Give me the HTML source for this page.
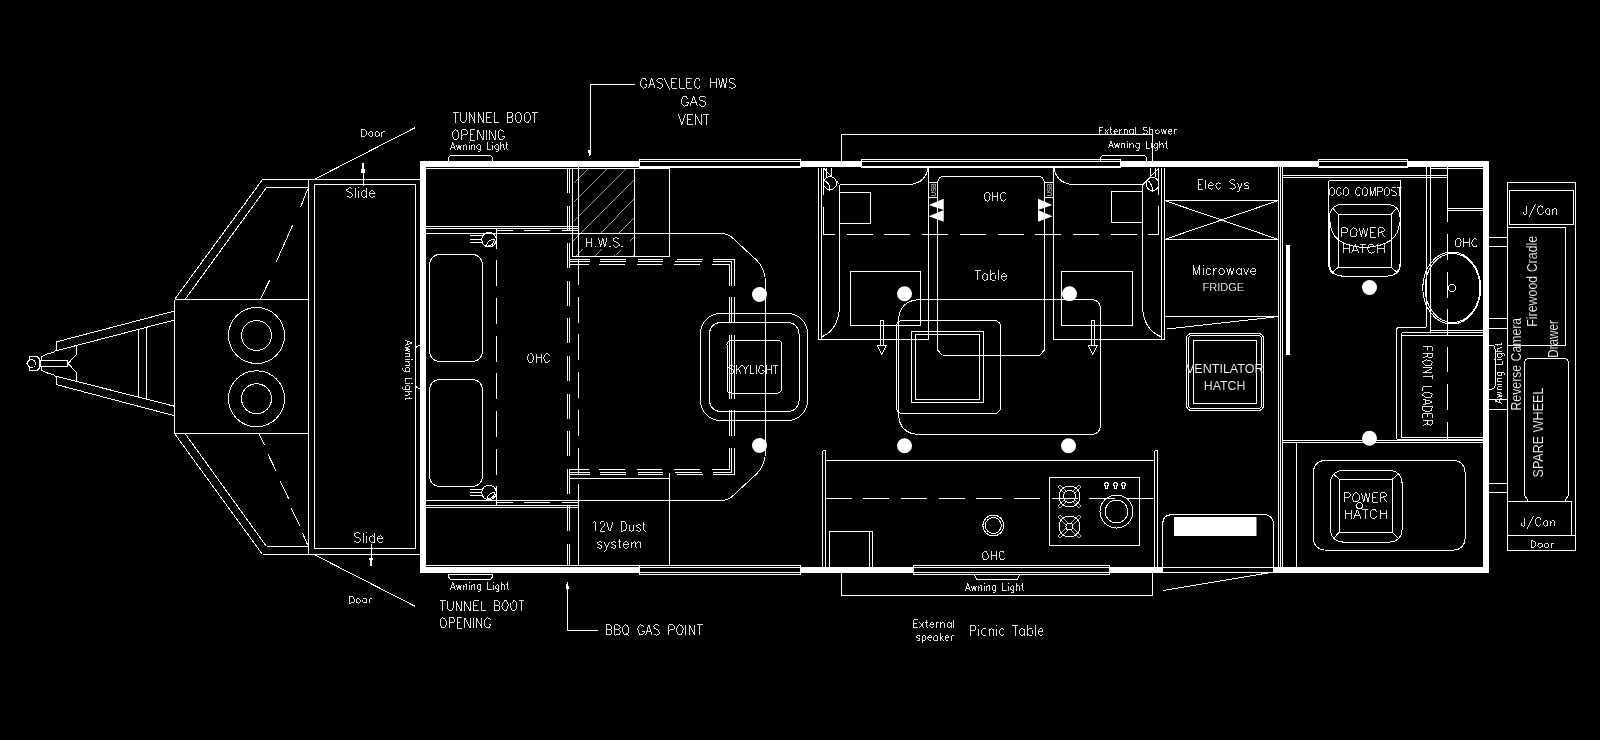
<!DOCTYPE html>
<html><head><meta charset="utf-8"><title>Caravan plan</title>
<style>
html,body{margin:0;padding:0;background:#000}
body{width:1600px;height:740px;overflow:hidden}
svg{display:block;filter:grayscale(1)}
text{font-family:"Liberation Sans",sans-serif;fill:#fff;stroke:#000;stroke-width:0.012em;paint-order:fill stroke}
.a text{font-family:"Liberation Sans",sans-serif}
</style></head><body>
<svg width="1600" height="740" viewBox="0 0 1600 740">
<rect width="1600" height="740" fill="#000"/>

<!-- ===== SECTION: DRAWBAR ===== -->
<g fill="none" stroke="#fff" stroke-width="1" shape-rendering="crispEdges">
<path d="M262.5,179.5H420M262.5,554.5H420M266.5,187.5H308.5M266.5,546.5H308.5M308.5,179.5V554.5"/>
<rect x="314.5" y="184.5" width="101" height="364"/>
<path d="M174.5,299.5H308.5M174.5,433.5H308.5M174.5,299.5V433.5"/>
<path d="M138.5,329.5V397M146.5,327.5V399"/>
<rect x="40.5" y="360.5" width="27" height="6"/>
</g>
<g fill="none" stroke="#fff" stroke-width="1" shape-rendering="crispEdges">
<path d="M262.5,179.5L174.5,299.5M266.5,187.5L185,299.5M174.5,433.5L262.5,554.5M185,433.5L266.5,546.5"/>
<path d="M307.7,188.9L300.5,207.4M292.6,225.2L276.3,261.7M269.7,280L260.4,299.1"/>
<path d="M258.9,433.5L264.6,444.9M268,454.3L276.3,471.3M280.1,480.8L288.8,499.1M291,507.8L300.1,526.2M302.4,532.8L307.7,545"/>
<path d="M315,179L415.5,127.5M315,555L415.5,606.5"/>
<!-- beams -->
<path d="M174.5,311L56,342V350L53.5,352.5Q45,354 41.5,357V360.5"/>
<path d="M174.5,320L56,350.8"/>
<path d="M76.5,345.5V354.5L68,363.5L76.5,372.5V381.5"/>
<path d="M174.5,415.75L56,384.5V377L53.5,374.5Q45,373 41.5,370V366.5"/>
<path d="M174.5,406.25L56,376.2"/>
<!-- hitch -->
<path d="M39.5,359L37,356.5H29.5V360.5L26.5,363.5L29.5,366.5V370.5H37L39.5,368Z"/>
<circle cx="31.5" cy="363.5" r="4"/>
<!-- gas bottles -->
<circle cx="256.5" cy="335.5" r="28"/><circle cx="256.5" cy="335.5" r="15"/>
<circle cx="256.5" cy="398.75" r="28"/><circle cx="256.5" cy="398.75" r="15"/>
</g>

<!-- ===== SECTION: SHELL ===== -->
<g fill="#fff" stroke="none" shape-rendering="crispEdges">
<rect x="420" y="161" width="6" height="412"/>
<rect x="1483" y="161" width="6" height="412"/>
<rect x="420" y="161" width="219" height="6"/>
<rect x="801" y="161" width="60" height="6"/>
<rect x="1121" y="161" width="197" height="6"/>
<rect x="1408" y="161" width="81" height="6"/>
<rect x="420" y="567" width="219" height="6"/>
<rect x="801" y="567" width="112" height="6"/>
<rect x="1110" y="567" width="53" height="6"/>
<rect x="1273" y="567" width="216" height="6"/>
</g>
<g fill="none" stroke="#fff" stroke-width="1" shape-rendering="crispEdges">
<path d="M426,168.5H669.500M426,565.5H669.500M1430.500,168.500H1483"/>
<!-- top windows -->
<path d="M639.5,159V168M639,159.5H801M639,161.5H801M800.5,159V168"/>
<path d="M861.5,159V168M861,159.5H1121M861,161.5H1121M1120.5,159V168"/>
<path d="M1318.5,159V168M1318,159.5H1408M1318,161.5H1408M1407.5,159V168"/>
<!-- bottom windows -->
<path d="M639.5,565V575M639,565.500H801M639,567.5H801M639,572.5H801M639,574.5H801M800.5,565V575"/>
<path d="M913.5,565V575M913,565.5H1110M913,567.5H1110M913,572.5H1110M913,574.5H1110M1109.5,565V575"/>
<!-- door -->
<path d="M1163,567.5H1273M1163,572.5H1273"/>
</g>
<g fill="#fff" stroke="none" shape-rendering="crispEdges">
<rect x="639" y="166" width="162" height="2"/>
<rect x="861" y="166" width="260" height="2"/>
<rect x="1318" y="166" width="90" height="2"/>
</g>
<!-- ===== SECTION: BED ===== -->
<g fill="none" stroke="#fff" stroke-width="1" shape-rendering="crispEdges">
<!-- head/foot double lines -->
<path d="M426,226.5H578M426,228.5H578M426,505.5H578M426,507.5H578"/>
<path d="M497,230.5H513M524,230.5H550M562,230.5H578"/>
<path d="M497,502.5H513M524,502.5H550M562,502.5H578"/>
<!-- vertical dashed x=496 -->
<path d="M496.5,228V505" stroke-dasharray="26 11.7" stroke-dashoffset="5.5"/>
<!-- double dashed verticals -->
<path d="M567.5,168V566M569.5,168V566" stroke-dasharray="25 12.6"/>
<path d="M572.5,168V257"/>
<path d="M578.5,162V257M578.5,484V566"/>
<path d="M578.5,259V484" stroke-dasharray="26 11.7"/>
<!-- HWS boxes -->
<path d="M572.5,256.5H669.5M634.5,168V257M669.5,168V257"/>
<!-- dust box -->
<path d="M569,478.5H669.5M669.5,473V566"/>
<!-- triple dashed rect: horizontals -->
<path d="M569,259.5H589.5M600,259.5H626M637.5,259.5H663M676.5,259.5H702.5M713,259.5H735"/>
<path d="M569,261.5H589.5M600,261.5H626M637.5,261.5H663M675,261.5H702M713,261.5H732"/>
<path d="M569,264.5H589M599,264.5H625M636.5,264.5H662M674,264.5H700M712,264.5H730"/>
<path d="M569,474.5H589.5M600,474.5H626M637.5,474.5H663M676.5,474.5H702.5M713,474.5H735"/>
<path d="M569,472.5H589.5M600,472.5H626M637.5,472.5H663M675,472.5H702M713,472.5H732"/>
<path d="M569,469.5H589M599,469.5H625M636.5,469.5H662M674,469.5H700M712,469.5H730"/>
<!-- triple dashed rect: verticals -->
<path d="M734.5,259V286M734.5,297V323M734.5,335V399M734.5,410V436M734.5,447.5V475"/>
<path d="M731.5,261V286M731.5,297V323M731.5,335V399M731.5,410V436M731.5,447.5V473"/>
<path d="M729.5,264V286M729.5,297V323M729.5,335V399M729.5,410V436M729.5,447.5V470"/>
<!-- bed outline straight parts -->
<path d="M426,233.5H720M426,500.5H720M765.5,284V450"/>
</g>
<g fill="none" stroke="#fff" stroke-width="1" shape-rendering="crispEdges">
<path d="M720,233.5Q727,233.5 731,236.5L757,260.5Q765.5,269 765.5,284"/>
<path d="M720,500.5Q727,500.5 731,497.5L757,473.5Q765.5,465 765.5,450"/>
<!-- pillows -->
<rect x="429.5" y="254.5" width="53" height="107" rx="10" ry="10"/>
<rect x="429.5" y="379.5" width="53" height="107" rx="10" ry="10"/>
<!-- light fixtures -->
<circle cx="489" cy="239.7" r="7.3"/>
<path d="M470,235.5H483M470,239.5H481.500M470,242.500H482"/>
<path d="M486.300,246.300Q487,240 494.500,239.200Q494,246 486.300,246.300Z"/>
<circle cx="489" cy="492.5" r="7.3"/>
<path d="M470,489.500H482M470,492.500H481.500M470,495.500H482"/>
<path d="M487.300,498.800Q488,493 494.800,492.400Q494,498.500 487.300,498.800Z"/>
<!-- hatch -->
<path stroke-width="0.6" d="M572.5,183.1L587,168.5M572.5,202L606,168.5M572.5,221L625,168.5M572.5,240.5L634.5,178.5
M575,256.5L583,249.5M599.5,233.5L634.5,197.5M594,256.5L601.5,249.5M618,233.5L634.5,216.5M613,256.5L620,249.5M629.5,240.5L634.5,235.5M632,256.5L634.5,254"/>
<!-- skylight -->
<rect x="700.5" y="313.5" width="107" height="107" rx="20" ry="20"/>
<rect x="709.5" y="322.5" width="89.500" height="89" rx="11" ry="11"/>
<rect x="727" y="340.500" width="54.700" height="52.500" rx="4" ry="4"/>
</g>
<g fill="#fff" stroke="none">
<circle cx="759.5" cy="294.5" r="7.5"/><circle cx="759.5" cy="445.5" r="7.5"/>
</g>

<!-- ===== SECTION: DINETTE ===== -->
<g fill="none" stroke="#fff" stroke-width="1" shape-rendering="crispEdges">
<!-- wall between bed and dinette -->
<path d="M818.500,168V339.500M821.500,168V339.500M818.500,339.500H928.500M823.500,167.500V194.500M823.500,206.500V234.500"/>
<!-- external shower box -->
<path d="M841.500,161V134.500H1152.500V161"/>
<!-- left seat -->
<path d="M839.500,184.500V308M839.500,184.500H911"/>
<rect x="839.500" y="192.500" width="31" height="31"/>
<rect x="850.500" y="271.500" width="70" height="54"/>
<path d="M928.500,168V339.500M937.500,197V350"/>
<!-- right seat -->
<path d="M1142.500,184.500V308M1071,184.500H1142.500"/>
<rect x="1111.500" y="191.500" width="31" height="31"/>
<rect x="1061.500" y="271.500" width="70.500" height="54"/>
<path d="M1053.500,168V339.500M1044.500,197V350M1053.500,339.500H1164.500"/>
<path d="M1158.500,167.500V194.500M1158.500,206V234.500M1161.500,168V339.500M1164.500,168V339.500"/>
<!-- USB boxes -->
<rect x="928.500" y="182.500" width="9" height="15"/>
<rect x="1044.500" y="182.500" width="9" height="15"/>
<!-- table top line -->
<path d="M944,176.500H1038M942.500,355.500H1039.500"/>
<!-- dashed OHC line -->
<path d="M823.500,234.500H1159" stroke-dasharray="26 11.7" stroke-dashoffset="14.5"/>
<!-- centre squares -->
<rect x="911.500" y="331.500" width="72" height="71"/>
<rect x="915.500" y="334.500" width="64" height="65"/>
<!-- arrows shafts -->
<path d="M880.500,320V345.500M883.500,320V345.500M880.500,320.500H883.500M877,345.500H886.500"/>
<path d="M1091.500,320V345.500M1094.500,320V345.500M1091.500,320.500H1094.500M1088,345.500H1097.500"/>
</g>
<g fill="none" stroke="#fff" stroke-width="1" shape-rendering="crispEdges">
<path d="M911,184.500Q926,182 928,168"/>
<path d="M1071,184.500Q1056,182 1054,168"/>
<path d="M839.500,308Q838,330 821.500,337"/>
<path d="M1142.500,308Q1144,330 1161.500,337"/>
<path d="M937.500,197.500V182.500Q938.500,176.500 944,176.500M1038,176.500Q1043.500,176.500 1044.500,182.500"/>
<path d="M937.500,350L942.500,355.500M1039.500,355.500L1044.500,350"/>
<path d="M877,345.500L881.750,354L886.500,345.500M1088,345.500L1092.750,354L1097.500,345.500"/>
<!-- big rounded rect -->
<path d="M922,299.500H1090.500Q1100.500,299.500 1100.500,309.500V424.500Q1100.500,434.500 1090.500,434.500H920.500Q898.500,434.500 898.500,412.500V322Q898.500,299.500 922,299.500Z"/>
<rect x="896.500" y="320.500" width="104" height="93" rx="6" ry="6"/>
<!-- lights at seat ends -->
<circle cx="830" cy="183.200" r="6.500"/>
<path d="M826.500,167.500V176.500M831.500,167.500V176.500M823.500,168L831.500,176.500M836.500,181L839.500,184.500M825,181Q831,184 829.500,191.500"/>
<circle cx="1152.500" cy="184" r="6.500"/>
<path d="M1150.500,167.500V176.500M1155.500,167.500V176.500M1157.500,169.500L1143,184.500M1147,180Q1152,183 1153,192"/>
</g>
<g fill="#fff" stroke="none">
<circle cx="904.500" cy="293.750" r="7.500"/><circle cx="1069.500" cy="293.750" r="7.500"/>
<circle cx="904.500" cy="445.750" r="7.500"/><circle cx="1068.500" cy="445.750" r="7.500"/>
<path d="M928.750,205L943.750,198.750V210ZM928.750,216.250L943.750,210V221.750Z"/>
<path d="M1052.500,205L1038,198.750V210ZM1052.500,216.250L1038,210V221.750Z"/>
</g>

<!-- ===== SECTION: KITCHEN ===== -->
<g fill="none" stroke="#fff" stroke-width="1" shape-rendering="crispEdges">
<path d="M822.500,450.500V567M825.500,450.500V567M822.500,450.500H826M1154.500,450.500V567M1157.500,450.500V567M1154.500,450.500H1158"/>
<path d="M825.500,460.500H1154.500"/>
<path d="M825.500,498.500H1154.500" stroke-dasharray="26 11.700" stroke-dashoffset="0"/>
<path d="M829.500,567V531.500H872.500V567M869.500,531.500V567"/>
<rect x="1049.500" y="477.500" width="90" height="68"/>
<!-- picnic table box -->
<path d="M841.500,573V595.500H1152.500V573"/>
</g>
<g fill="none" stroke="#fff" stroke-width="1" shape-rendering="crispEdges">
<circle cx="993.250" cy="525.500" r="10.400"/><circle cx="993.250" cy="525.500" r="8"/>
<!-- burners -->
<circle cx="1069.500" cy="496.500" r="10.400"/><circle cx="1069.500" cy="496.500" r="6.200"/>
<path stroke-width="0.7" d="M1072.8,502.0L1079.0,508.2L1081.2,506.0L1075.0,499.8M1064.0,499.8L1057.8,506.0L1060.0,508.2L1066.2,502.0M1066.2,491.0L1060.0,484.8L1057.8,487.0L1064.0,493.2M1075.0,493.2L1081.2,487.0L1079.0,484.8L1072.8,491.0"/>
<circle cx="1069.500" cy="526.500" r="10.400"/><circle cx="1069.500" cy="526.500" r="3.500"/>
<path stroke-width="0.7" d="M1070.8,530.1L1079.0,538.2L1081.2,536.0L1073.1,527.8M1065.9,527.8L1057.8,536.0L1060.0,538.2L1068.2,530.1M1068.2,522.9L1060.0,514.8L1057.8,517.0L1065.9,525.2M1073.1,525.2L1081.2,517.0L1079.0,514.8L1070.8,522.9"/>
<circle cx="1116.500" cy="511.500" r="16.500"/><circle cx="1116.500" cy="511.500" r="11.300"/>
<!-- knobs -->
<path d="M1104.500,484Q1106.500,481 1108.500,484V485.500H1107.500V488.500H1105.500V485.500H1104.500ZM1113.500,484Q1115.500,481 1117.500,484V485.500H1116.500V488.500H1114.500V485.500H1113.500ZM1121.500,484Q1123.500,481 1125.500,484V485.500H1124.500V488.500H1122.500V485.500H1121.500Z"/>
<!-- awning light bumps -->
<path d="M974.500,575L977,579.500H1017L1019.500,575"/>
</g>
<!-- ===== SECTION: FRIDGE/ELEC ===== -->
<g fill="none" stroke="#fff" stroke-width="1" shape-rendering="crispEdges">
<path d="M1164.500,200.500H1278.500M1164.500,239.500H1278.500M1164.500,316.500H1279"/>
<path d="M1278.500,167V567M1280.500,167V567M1282.500,167V567"/>
<rect x="1286" y="245" width="3.500" height="110" fill="#fff" stroke="none"/>
<rect x="1193.500" y="340.500" width="63" height="63"/>
</g>
<g fill="none" stroke="#fff" stroke-width="1" shape-rendering="crispEdges">
<path d="M1164.500,200.500L1278.500,239.500M1164.500,239.500L1278.500,200.500"/>
<path d="M1167.500,329L1279,316.500"/>
<rect x="1186.500" y="333.500" width="77" height="77" rx="5" ry="5"/>
<rect x="1188.500" y="335.500" width="73" height="73" rx="3.500" ry="3.500"/>
<!-- door step -->
<path d="M1162.500,567V525Q1162.500,514.500 1173,514.500H1263Q1273.500,514.500 1273.500,525V567"/>
<path d="M1270.500,572.500L1163.500,590.500"/>
</g>
<rect x="1174" y="517" width="82.500" height="19" fill="#fff"/>
<!-- ===== SECTION: BATH ===== -->
<g fill="none" stroke="#fff" stroke-width="1" shape-rendering="crispEdges">
<path d="M1282,175.500H1447.500M1282,177.500H1447.500"/>
<path d="M1426.500,167V325M1430.500,167V332.500M1447.500,167V222"/>
<path d="M1447.500,234V260M1447.500,271.500V297.500M1447.500,309V335.500M1447.500,346.500V371.500M1447.500,384V409.500M1447.500,421.500V439.500"/>
<path d="M1447.500,208.500H1483M1447.500,210.500H1483"/>
<path d="M1328.500,180.500H1400.500M1328.500,180.500V262M1400.500,180.500V262"/>
<rect x="1338.500" y="214.500" width="52.500" height="52.500"/>
<rect x="1339.500" y="479.500" width="52.500" height="52.500"/>
<path d="M1399,327.500H1424.500M1430.500,330.500H1483M1401.500,332.500H1483M1401.500,335.500H1483M1396.500,330V439M1401.500,332.500V437.500"/>
<path d="M1401.500,437.500H1483M1396.500,439.500H1483M1282,440.500H1483M1282,442.500H1483M1296.500,442.500V567"/>
</g>
<g fill="none" stroke="#fff" stroke-width="1" shape-rendering="crispEdges">
<path d="M1328.500,262Q1328.500,270 1333,273.500M1400.500,262Q1400.500,270 1396.500,273.500"/>
<rect x="1329.500" y="204.500" width="70.500" height="71.500" rx="12" ry="12"/>
<path d="M1332.500,208L1338.500,214.500M1397,208L1391,214.500M1332.500,272.500L1338.500,267M1397,272.500L1391,267"/>
<path d="M1330,222Q1331,246 1364.500,247.500Q1399,246 1399.500,222"/>
<rect x="1330.500" y="470.500" width="71.500" height="71.500" rx="12" ry="12"/>
<path d="M1333.500,474L1339.500,479.500M1398.500,474L1392,479.500M1333.500,538.500L1339.500,532M1398.500,538.500L1392,532"/>
<rect x="1313.500" y="460.500" width="151.500" height="89.500" rx="11" ry="11"/>
<circle cx="1359.500" cy="505.750" r="3"/>
<ellipse cx="1451.750" cy="288" rx="29" ry="36"/>
<ellipse cx="1452.500" cy="288" rx="27.500" ry="34.500"/>
<circle cx="1452" cy="288" r="3.500"/>
<path d="M1426.500,325Q1426.500,327.500 1424.500,327.500M1399,327.500Q1396.500,327.500 1396.500,330.500"/>
</g>
<g fill="#fff" stroke="none">
<circle cx="1369.500" cy="287.500" r="7.500"/><circle cx="1369.500" cy="438.250" r="7.500"/>
</g>
<!-- ===== SECTION: REAR ===== -->
<g fill="none" stroke="#fff" stroke-width="1" shape-rendering="crispEdges">
<path d="M1507.500,182.500H1575.500V550H1507.500Z"/>
<rect x="1509.500" y="190.500" width="64" height="34"/>
<path d="M1507.500,227.500H1565.500V345.500M1507.500,345.500H1565.500"/>
<path d="M1489,237.500H1507.500M1489,246.500H1507.500M1489,318.500H1507.500M1489,328.500H1507.500M1489,399.500H1507.500M1489,409.500H1507.500M1489,483.500H1507.500M1489,492.500H1507.500"/>
<path d="M1507.500,501.500H1571.500V535.500M1507.500,535.500H1575.500"/>
</g>
<g fill="none" stroke="#fff" stroke-width="1" shape-rendering="crispEdges">
<path d="M1524.500,495V363.500Q1524.500,358.500 1529.500,358.500H1563.500Q1568.500,358.500 1568.500,363.500V495L1564.500,501.500H1528.500Z"/>
<path d="M1489,345H1492Q1495,345.500 1495,348.500V385.500Q1495,388.500 1492,389H1489"/>
</g>

<!-- ===== SECTION: TEXT ===== -->
<g fill="none" stroke="#fff" stroke-width="0.85" shape-rendering="crispEdges">
<path d="M361.8,129.3L361.8,136.5M361.8,129.3L365.1,129.6L366.5,132.0L366.5,133.8L365.1,136.2L361.8,136.5M370.2,131.7L368.9,132.7L368.5,134.4L369.6,136.2L371.3,136.5L372.6,135.5L373.0,133.8L371.9,132.0L370.2,131.7M376.7,131.7L375.3,132.7L375.0,134.4L376.0,136.2L377.7,136.5L379.1,135.5L379.4,133.8L378.4,132.0L376.7,131.7M381.8,131.7L381.8,136.5M381.8,133.8L382.8,132.0L384.5,131.7"/>
<path d="M352.4,189.0L350.3,187.6L348.6,187.6L346.5,189.0L347.3,191.4L351.5,193.3L352.4,194.7L352.4,196.1L350.3,197.5L348.6,197.5L346.5,196.1M355.3,187.6L355.3,197.5M358.2,187.6L358.6,188.1L359.0,187.6L358.6,187.1L358.2,187.6M358.6,190.9L358.6,197.5M366.6,187.6L366.6,197.5M366.6,192.3L364.9,190.9L363.6,190.9L362.0,192.3L361.5,193.7L362.0,196.1L363.6,197.5L364.9,197.5L366.6,196.1M369.5,193.7L374.5,193.7L374.1,191.8L372.8,190.9L371.6,190.9L369.9,192.3L369.5,193.7L369.9,196.1L371.6,197.5L372.8,197.5L374.5,196.1"/>
<path d="M455.8,112.3L455.8,122.5M453.0,112.3L458.6,112.3M460.5,112.3L460.5,119.6L460.9,121.0L462.9,122.5L464.9,122.0L465.7,121.0L466.1,119.6L466.1,112.3M469.3,112.3L469.3,122.5M469.3,112.3L474.8,122.5M474.8,112.3L474.8,122.5M478.0,112.3L478.0,122.5M478.0,112.3L483.5,122.5M483.5,112.3L483.5,122.5M486.7,112.3L486.7,122.5M486.7,112.3L491.9,112.3M486.7,117.2L489.9,117.2M486.7,122.5L491.9,122.5M494.3,112.3L494.3,122.5M494.3,122.5L499.0,122.5M507.3,112.3L507.3,122.5M507.3,112.3L510.9,112.3L512.5,113.3L512.9,115.2L512.1,116.7L510.9,117.2M507.3,117.2L510.9,117.2L512.1,117.6L512.9,119.1L512.9,120.6L512.1,122.0L507.3,122.5M517.7,112.3L515.7,114.7L515.3,118.6L516.9,122.0L519.3,122.5L521.2,120.1L521.6,116.2L520.0,112.8L517.7,112.3M526.4,112.3L524.4,114.7L524.0,118.6L525.6,122.0L528.0,122.5L530.0,120.1L530.4,116.2L528.8,112.8L526.4,112.3M534.7,112.3L534.7,122.5M531.9,112.3L537.5,112.3"/>
<path d="M454.9,129.8L452.9,132.2L452.5,136.1L454.1,139.5L456.5,140.0L458.5,137.6L458.9,133.7L457.3,130.3L454.9,129.8M461.7,129.8L461.7,140.0M461.7,129.8L465.3,129.8L466.5,130.3L467.3,131.7L467.3,133.2L466.5,134.7L461.7,135.1M470.1,129.8L470.1,140.0M470.1,129.8L475.3,129.8M470.1,134.7L473.3,134.7M470.1,140.0L475.3,140.0M477.7,129.8L477.7,140.0M477.7,129.8L483.2,140.0M483.2,129.8L483.2,140.0M486.4,129.8L486.4,140.0M489.6,129.8L489.6,140.0M489.6,129.8L495.2,140.0M495.2,129.8L495.2,140.0M504.0,132.2L502.8,130.3L500.4,129.8L498.8,131.3L498.0,133.7L498.4,137.6L500.4,140.0L502.8,139.5L504.0,137.6L504.0,136.1M502.0,136.1L504.0,136.1"/>
<path d="M452.9,142.3L450.5,149.5M452.9,142.3L455.3,149.5M451.4,147.1L454.4,147.1M456.5,144.7L457.7,149.5M458.9,144.7L457.7,149.5M458.9,144.7L460.1,149.5M461.3,144.7L460.1,149.5M463.4,144.7L463.4,149.5M463.4,146.1L464.9,144.7L466.4,145.0L466.7,149.5M468.8,142.3L469.1,142.6L469.4,142.3L469.1,142.0L468.8,142.3M469.1,144.7L469.1,149.5M471.4,144.7L471.4,149.5M471.4,146.1L472.9,144.7L474.4,145.0L474.7,149.5M480.4,144.7L480.4,150.2L480.1,151.2L479.2,151.9L477.7,151.6M480.4,145.7L479.2,144.7L478.3,144.7L477.1,145.7L476.8,146.8L477.1,148.5L478.3,149.5L479.2,149.5L480.4,148.5M487.6,142.3L487.6,149.5M487.6,149.5L491.2,149.5M492.4,142.3L492.7,142.6L493.0,142.3L492.7,142.0L492.4,142.3M492.7,144.7L492.7,149.5M498.4,144.7L498.4,150.2L498.1,151.2L497.2,151.9L495.7,151.6M498.4,145.7L497.2,144.7L496.3,144.7L495.1,145.7L494.8,146.8L495.1,148.5L496.3,149.5L497.2,149.5L498.4,148.5M500.8,142.3L500.8,149.5M500.8,146.1L502.3,144.7L503.8,145.0L504.1,149.5M506.8,142.3L506.8,148.1L507.1,149.2L508.2,149.5M505.9,144.7L508.0,144.7"/>
<path d="M646.8,80.5L645.5,78.5L643.0,78.0L641.3,79.5L640.5,81.9L640.9,85.8L643.0,88.2L645.5,87.8L646.8,85.8L646.8,84.4M644.7,84.4L646.8,84.4M651.8,78.0L648.5,88.2M651.8,78.0L655.2,88.2M649.7,84.8L653.9,84.8M662.8,79.5L660.7,78.0L659.0,78.0L656.9,79.5L657.7,81.9L661.9,83.9L662.8,85.3L662.8,86.8L660.7,88.2L659.0,88.2L656.9,86.8M664.0,78.0L669.9,89.7M671.6,78.0L671.6,88.2M671.6,78.0L677.0,78.0M671.6,82.9L674.9,82.9M671.6,88.2L677.0,88.2M679.6,78.0L679.6,88.2M679.6,88.2L684.6,88.2M686.7,78.0L686.7,88.2M686.7,78.0L692.2,78.0M686.7,82.9L690.1,82.9M686.7,88.2L692.2,88.2M700.6,80.5L699.3,78.5L696.8,78.0L695.1,79.5L694.3,81.9L694.3,84.4L695.9,87.8L698.5,88.2L700.6,85.8M710.2,78.0L710.2,88.2M716.1,78.0L716.1,88.2M710.2,82.9L716.1,82.9M718.6,78.0L720.7,88.2M722.8,78.0L720.7,88.2M722.8,78.0L724.9,88.2M727.0,78.0L724.9,88.2M735.0,79.5L732.9,78.0L731.2,78.0L729.1,79.5L730.0,81.9L734.2,83.9L735.0,85.3L735.0,86.8L732.9,88.2L731.2,88.2L729.1,86.8"/>
<path d="M688.2,98.5L686.8,96.5L684.0,96.0L682.2,97.5L681.2,99.9L681.7,103.8L684.0,106.2L686.8,105.8L688.2,103.8L688.2,102.4M685.9,102.4L688.2,102.4M693.7,96.0L690.0,106.2M693.7,96.0L697.4,106.2M691.4,102.8L696.0,102.8M705.8,97.5L703.4,96.0L701.6,96.0L699.3,97.5L700.2,99.9L704.8,101.9L705.8,103.3L705.8,104.8L703.4,106.2L701.6,106.2L699.3,104.8"/>
<path d="M678.5,114.3L681.8,124.5M685.2,114.3L681.8,124.5M687.3,114.3L687.3,124.5M687.3,114.3L692.7,114.3M687.3,119.2L690.6,119.2M687.3,124.5L692.7,124.5M695.2,114.3L695.2,124.5M695.2,114.3L701.1,124.5M701.1,114.3L701.1,124.5M706.1,114.3L706.1,124.5M703.2,114.3L709.0,114.3"/>
<path d="M586.0,237.8L586.0,247.0M591.8,237.8L591.8,247.0M586.0,242.2L591.8,242.2M595.6,246.1L595.2,246.6L595.6,247.0L596.0,246.6L595.6,246.1M598.5,237.8L600.6,247.0M602.7,237.8L600.6,247.0M602.7,237.8L604.8,247.0M606.9,237.8L604.8,247.0M609.8,246.1L609.4,246.6L609.8,247.0L610.2,246.6L609.8,246.1M619.0,239.1L616.9,237.8L615.2,237.8L613.1,239.1L614.0,241.3L618.2,243.1L619.0,244.4L619.0,245.7L616.9,247.0L615.2,247.0L613.1,245.7M622.3,246.1L621.9,246.6L622.3,247.0L622.8,246.6L622.3,246.1"/>
<path d="M529.7,353.6L527.9,355.7L527.5,359.1L529.0,362.1L531.2,362.5L533.1,360.4L533.5,357.0L532.0,354.0L529.7,353.6M536.1,353.6L536.1,362.5M541.3,353.6L541.3,362.5M536.1,357.8L541.3,357.8M549.5,355.7L548.4,354.0L546.1,353.6L544.7,354.8L543.9,357.0L543.9,359.1L545.4,362.1L547.6,362.5L549.5,360.4"/>
<path d="M733.7,366.5L732.0,365.3L730.5,365.3L728.8,366.5L729.5,368.5L733.0,370.1L733.7,371.3L733.7,372.5L732.0,373.8L730.5,373.8L728.8,372.5M736.2,365.3L736.2,373.8M741.2,365.3L736.2,370.9M738.0,368.9L741.2,373.8M742.6,365.3L745.5,369.3L745.5,373.8M748.3,365.3L745.5,369.3M750.1,365.3L750.1,373.8M750.1,373.8L754.4,373.8M756.2,365.3L756.2,373.8M764.0,367.3L762.9,365.7L760.8,365.3L759.4,366.5L758.7,368.5L759.0,371.7L760.8,373.8L762.9,373.3L764.0,371.7L764.0,370.5M762.2,370.5L764.0,370.5M766.5,365.3L766.5,373.8M771.5,365.3L771.5,373.8M766.5,369.3L771.5,369.3M775.8,365.3L775.8,373.8M773.3,365.3L778.2,365.3"/>
<path d="M593.0,523.4L595.0,521.5L595.0,531.2M600.0,523.9L600.8,522.0L603.2,521.5L604.3,522.5L604.7,524.3L603.5,526.6L599.6,531.2L605.1,531.2M606.7,521.5L609.8,531.2M612.9,521.5L609.8,531.2M621.1,521.5L621.1,531.2M621.1,521.5L625.0,522.0L626.6,525.2L626.6,527.6L625.0,530.8L621.1,531.2M629.3,524.8L629.7,530.8L631.7,531.2L633.6,529.4M633.6,524.8L633.6,531.2M640.7,526.2L640.3,525.2L639.1,524.8L636.8,525.2L636.4,526.2L636.8,527.1L640.3,528.5L640.7,529.9L640.3,530.8L639.1,531.2L636.8,530.8L636.4,529.9M643.8,521.5L643.8,529.4L644.2,530.8L645.8,531.2M642.6,524.8L645.4,524.8"/>
<path d="M602.1,543.2L601.7,542.2L600.4,541.8L597.9,542.2L597.5,543.2L597.9,544.1L601.7,545.5L602.1,546.9L601.7,547.8L600.4,548.2L597.9,547.8L597.5,546.9M604.2,541.8L606.7,548.2M609.3,541.8L605.9,550.1L603.8,551.5M616.0,543.2L615.6,542.2L614.3,541.8L611.8,542.2L611.4,543.2L611.8,544.1L615.6,545.5L616.0,546.9L615.6,547.8L614.3,548.2L611.8,547.8L611.4,546.9M619.3,538.5L619.3,546.4L619.8,547.8L621.4,548.2M618.1,541.8L621.0,541.8M623.5,544.6L628.6,544.6L628.2,542.7L626.9,541.8L625.6,541.8L624.0,543.2L623.5,544.6L624.0,546.9L625.6,548.2L626.9,548.2L628.6,546.9M631.5,541.8L631.5,548.2M631.5,543.6L633.6,541.8L635.7,542.2L636.1,548.2M636.1,543.6L638.2,541.8L640.3,542.2L640.8,548.2"/>
<path d="M360.2,534.0L358.1,532.6L356.4,532.6L354.3,534.0L355.1,536.4L359.4,538.3L360.2,539.7L360.2,541.1L358.1,542.5L356.4,542.5L354.3,541.1M363.2,532.6L363.2,542.5M366.2,532.6L366.6,533.1L367.0,532.6L366.6,532.1L366.2,532.6M366.6,535.9L366.6,542.5M374.6,532.6L374.6,542.5M374.6,537.3L373.0,535.9L371.7,535.9L370.0,537.3L369.6,538.7L370.0,541.1L371.7,542.5L373.0,542.5L374.6,541.1M377.6,538.7L382.7,538.7L382.3,536.8L381.0,535.9L379.7,535.9L378.0,537.3L377.6,538.7L378.0,541.1L379.7,542.5L381.0,542.5L382.7,541.1"/>
<path d="M349.2,596.0L349.2,603.2M349.2,596.0L352.6,596.4L354.0,598.8L354.0,600.5L352.6,602.9L349.2,603.2M357.7,598.5L356.4,599.5L356.0,601.2L357.1,602.9L358.8,603.2L360.1,602.2L360.5,600.5L359.4,598.8L357.7,598.5M364.2,598.5L362.8,599.5L362.5,601.2L363.5,602.9L365.2,603.2L366.6,602.2L366.9,600.5L365.9,598.8L364.2,598.5M369.3,598.5L369.3,603.2M369.3,600.5L370.3,598.8L372.0,598.5"/>
<path d="M452.9,582.3L450.5,589.5M452.9,582.3L455.3,589.5M451.4,587.1L454.4,587.1M456.5,584.7L457.7,589.5M459.0,584.7L457.7,589.5M459.0,584.7L460.2,589.5M461.4,584.7L460.2,589.5M463.5,584.7L463.5,589.5M463.5,586.1L465.0,584.7L466.5,585.0L466.8,589.5M468.9,582.3L469.2,582.6L469.5,582.3L469.2,582.0L468.9,582.3M469.2,584.7L469.2,589.5M471.6,584.7L471.6,589.5M471.6,586.1L473.1,584.7L474.6,585.0L474.9,589.5M480.7,584.7L480.7,590.2L480.4,591.2L479.5,591.9L478.0,591.6M480.7,585.7L479.5,584.7L478.6,584.7L477.4,585.7L477.1,586.8L477.4,588.5L478.6,589.5L479.5,589.5L480.7,588.5M487.9,582.3L487.9,589.5M487.9,589.5L491.5,589.5M492.8,582.3L493.1,582.6L493.4,582.3L493.1,582.0L492.8,582.3M493.1,584.7L493.1,589.5M498.8,584.7L498.8,590.2L498.5,591.2L497.6,591.9L496.1,591.6M498.8,585.7L497.6,584.7L496.7,584.7L495.5,585.7L495.2,586.8L495.5,588.5L496.7,589.5L497.6,589.5L498.8,588.5M501.2,582.3L501.2,589.5M501.2,586.1L502.7,584.7L504.2,585.0L504.5,589.5M507.2,582.3L507.2,588.1L507.5,589.2L508.8,589.5M506.3,584.7L508.4,584.7"/>
<path d="M442.8,600.5L442.8,610.8M440.0,600.5L445.5,600.5M447.5,600.5L447.5,607.8L447.9,609.3L449.9,610.8L451.8,610.3L452.6,609.3L453.0,607.8L453.0,600.5M456.2,600.5L456.2,610.8M456.2,600.5L461.7,610.8M461.7,600.5L461.7,610.8M464.8,600.5L464.8,610.8M464.8,600.5L470.4,610.8M470.4,600.5L470.4,610.8M473.5,600.5L473.5,610.8M473.5,600.5L478.6,600.5M473.5,605.4L476.7,605.4M473.5,610.8L478.6,610.8M481.0,600.5L481.0,610.8M481.0,610.8L485.7,610.8M494.0,600.5L494.0,610.8M494.0,600.5L497.6,600.5L499.2,601.5L499.5,603.5L498.8,604.9L497.6,605.4M494.0,605.4L497.6,605.4L498.8,605.9L499.5,607.4L499.5,608.8L498.8,610.3L494.0,610.8M504.3,600.5L502.3,603.0L501.9,606.9L503.5,610.3L505.9,610.8L507.8,608.3L508.2,604.4L506.6,601.0L504.3,600.5M513.0,600.5L511.0,603.0L510.6,606.9L512.2,610.3L514.5,610.8L516.5,608.3L516.9,604.4L515.3,601.0L513.0,600.5M521.2,600.5L521.2,610.8M518.5,600.5L524.0,600.5"/>
<path d="M442.3,617.8L440.4,620.2L440.0,624.1L441.6,627.5L443.9,628.0L445.9,625.6L446.3,621.7L444.7,618.3L442.3,617.8M449.0,617.8L449.0,628.0M449.0,617.8L452.5,617.8L453.7,618.3L454.5,619.7L454.5,621.2L453.7,622.7L449.0,623.1M457.2,617.8L457.2,628.0M457.2,617.8L462.3,617.8M457.2,622.7L460.4,622.7M457.2,628.0L462.3,628.0M464.7,617.8L464.7,628.0M464.7,617.8L470.1,628.0M470.1,617.8L470.1,628.0M473.3,617.8L473.3,628.0M476.4,617.8L476.4,628.0M476.4,617.8L481.9,628.0M481.9,617.8L481.9,628.0M490.5,620.2L489.3,618.3L487.0,617.8L485.4,619.3L484.6,621.7L485.0,625.6L487.0,628.0L489.3,627.5L490.5,625.6L490.5,624.1M488.5,624.1L490.5,624.1"/>
<path d="M606.0,624.8L606.0,635.0M606.0,624.8L609.6,624.8L611.2,625.8L611.7,627.7L610.8,629.2L609.6,629.7M606.0,629.7L609.6,629.7L610.8,630.1L611.7,631.6L611.7,633.1L610.8,634.5L606.0,635.0M614.5,624.8L614.5,635.0M614.5,624.8L618.1,624.8L619.7,625.8L620.1,627.7L619.3,629.2L618.1,629.7M614.5,629.7L618.1,629.7L619.3,630.1L620.1,631.6L620.1,633.1L619.3,634.5L614.5,635.0M625.0,624.8L623.0,627.2L622.6,631.1L624.2,634.5L626.6,635.0L628.6,632.6L629.0,628.7L627.4,625.3L625.0,624.8M626.2,633.1L628.6,636.0M644.0,627.2L642.7,625.3L640.3,624.8L638.7,626.3L637.9,628.7L638.3,632.6L640.3,635.0L642.7,634.5L644.0,632.6L644.0,631.1M641.9,631.1L644.0,631.1M648.8,624.8L645.6,635.0M648.8,624.8L652.0,635.0M646.8,631.6L650.8,631.6M659.3,626.3L657.3,624.8L655.7,624.8L653.6,626.3L654.5,628.7L658.5,630.6L659.3,632.1L659.3,633.5L657.3,635.0L655.7,635.0L653.6,633.5M668.6,624.8L668.6,635.0M668.6,624.8L672.2,624.8L673.4,625.3L674.2,626.7L674.2,628.2L673.4,629.7L668.6,630.1M679.1,624.8L677.1,627.2L676.7,631.1L678.3,634.5L680.7,635.0L682.7,632.6L683.1,628.7L681.5,625.3L679.1,624.8M685.9,624.8L685.9,635.0M689.2,624.8L689.2,635.0M689.2,624.8L694.8,635.0M694.8,624.8L694.8,635.0M699.7,624.8L699.7,635.0M696.8,624.8L702.5,624.8"/>
<path d="M1099.2,127.0L1099.2,134.0M1099.2,127.0L1103.3,127.0M1099.2,130.3L1101.8,130.3M1099.2,134.0L1103.3,134.0M1104.9,129.3L1108.3,134.0M1108.3,129.3L1104.9,134.0M1110.8,127.0L1110.8,132.7L1111.1,133.7L1112.4,134.0M1109.9,129.3L1112.1,129.3M1113.9,131.3L1117.7,131.3L1117.4,130.0L1116.5,129.3L1115.5,129.3L1114.3,130.3L1113.9,131.3L1114.3,133.0L1115.5,134.0L1116.5,134.0L1117.7,133.0M1119.9,129.3L1119.9,134.0M1119.9,131.3L1120.8,129.7L1122.4,129.3M1124.0,129.3L1124.0,134.0M1124.0,130.7L1125.5,129.3L1127.1,129.7L1127.4,134.0M1133.3,129.3L1133.3,134.0M1133.3,130.3L1132.1,129.3L1131.2,129.3L1129.9,130.3L1129.6,131.3L1129.9,133.0L1131.2,134.0L1132.1,134.0L1133.3,133.0M1135.8,127.0L1135.8,134.0M1147.4,128.0L1145.9,127.0L1144.6,127.0L1143.0,128.0L1143.7,129.7L1146.8,131.0L1147.4,132.0L1147.4,133.0L1145.9,134.0L1144.6,134.0L1143.0,133.0M1149.6,127.0L1149.6,134.0M1149.6,130.7L1151.2,129.3L1152.7,129.7L1153.0,134.0M1156.8,129.3L1155.5,130.3L1155.2,132.0L1156.2,133.7L1157.7,134.0L1159.0,133.0L1159.3,131.3L1158.4,129.7L1156.8,129.3M1161.2,129.3L1162.4,134.0M1163.7,129.3L1162.4,134.0M1163.7,129.3L1164.9,134.0M1166.2,129.3L1164.9,134.0M1168.1,131.3L1171.8,131.3L1171.5,130.0L1170.6,129.3L1169.6,129.3L1168.4,130.3L1168.1,131.3L1168.4,133.0L1169.6,134.0L1170.6,134.0L1171.8,133.0M1174.0,129.3L1174.0,134.0M1174.0,131.3L1174.9,129.7L1176.5,129.3"/>
<path d="M1110.9,141.1L1108.5,148.2M1110.9,141.1L1113.4,148.2M1109.4,145.8L1112.5,145.8M1114.6,143.4L1115.8,148.2M1117.1,143.4L1115.8,148.2M1117.1,143.4L1118.3,148.2M1119.5,143.4L1118.3,148.2M1121.6,143.4L1121.6,148.2M1121.6,144.8L1123.2,143.4L1124.7,143.8L1125.0,148.2M1127.1,141.1L1127.5,141.4L1127.8,141.1L1127.5,140.7L1127.1,141.1M1127.5,143.4L1127.5,148.2M1129.9,143.4L1129.9,148.2M1129.9,144.8L1131.4,143.4L1133.0,143.8L1133.3,148.2M1139.1,143.4L1139.1,148.9L1138.8,150.0L1137.8,150.7L1136.3,150.3M1139.1,144.5L1137.8,143.4L1136.9,143.4L1135.7,144.5L1135.4,145.5L1135.7,147.2L1136.9,148.2L1137.8,148.2L1139.1,147.2M1146.4,141.1L1146.4,148.2M1146.4,148.2L1150.1,148.2M1151.3,141.1L1151.6,141.4L1151.9,141.1L1151.6,140.7L1151.3,141.1M1151.6,143.4L1151.6,148.2M1157.4,143.4L1157.4,148.9L1157.1,150.0L1156.2,150.7L1154.7,150.3M1157.4,144.5L1156.2,143.4L1155.3,143.4L1154.0,144.5L1153.7,145.5L1154.0,147.2L1155.3,148.2L1156.2,148.2L1157.4,147.2M1159.9,141.1L1159.9,148.2M1159.9,144.8L1161.4,143.4L1162.9,143.8L1163.2,148.2M1166.0,141.1L1166.0,146.9L1166.3,147.9L1167.5,148.2M1165.1,143.4L1167.2,143.4"/>
<path d="M986.4,192.3L984.6,194.4L984.2,197.8L985.7,200.8L987.9,201.2L989.7,199.1L990.1,195.7L988.6,192.7L986.4,192.3M992.6,192.3L992.6,201.2M997.7,192.3L997.7,201.2M992.6,196.6L997.7,196.6M1005.8,194.4L1004.7,192.7L1002.5,192.3L1001.0,193.6L1000.3,195.7L1000.3,197.8L1001.7,200.8L1003.9,201.2L1005.8,199.1"/>
<path d="M977.7,270.3L977.7,280.2M974.8,270.3L980.6,270.3M987.3,273.6L987.3,280.2M987.3,275.0L985.6,273.6L984.4,273.6L982.7,275.0L982.3,276.5L982.7,278.8L984.4,280.2L985.6,280.2L987.3,278.8M990.6,270.3L990.6,280.2M990.6,275.0L992.3,273.6L993.5,273.6L995.2,275.0L995.6,276.5L995.2,278.8L993.5,280.2L992.3,280.2L990.6,278.8M998.6,270.3L998.6,280.2M1001.5,276.5L1006.5,276.5L1006.1,274.6L1004.8,273.6L1003.6,273.6L1001.9,275.0L1001.5,276.5L1001.9,278.8L1003.6,280.2L1004.8,280.2L1006.5,278.8"/>
<path d="M984.6,551.0L982.6,553.2L982.2,556.6L983.8,559.6L986.1,560.0L988.0,557.9L988.4,554.5L986.9,551.5L984.6,551.0M991.1,551.0L991.1,560.0M996.5,551.0L996.5,560.0M991.1,555.3L996.5,555.3M1005.0,553.2L1003.8,551.5L1001.5,551.0L1000.0,552.3L999.2,554.5L999.2,556.6L1000.8,559.6L1003.1,560.0L1005.0,557.9"/>
<path d="M967.9,583.3L965.5,590.5M967.9,583.3L970.3,590.5M966.4,588.1L969.4,588.1M971.5,585.7L972.7,590.5M974.0,585.7L972.7,590.5M974.0,585.7L975.2,590.5M976.4,585.7L975.2,590.5M978.5,585.7L978.5,590.5M978.5,587.1L980.0,585.7L981.5,586.0L981.8,590.5M983.9,583.3L984.2,583.6L984.5,583.3L984.2,583.0L983.9,583.3M984.2,585.7L984.2,590.5M986.6,585.7L986.6,590.5M986.6,587.1L988.1,585.7L989.6,586.0L989.9,590.5M995.7,585.7L995.7,591.2L995.4,592.2L994.5,592.9L993.0,592.6M995.7,586.7L994.5,585.7L993.6,585.7L992.4,586.7L992.1,587.8L992.4,589.5L993.6,590.5L994.5,590.5L995.7,589.5M1002.9,583.3L1002.9,590.5M1002.9,590.5L1006.5,590.5M1007.8,583.3L1008.1,583.6L1008.4,583.3L1008.1,583.0L1007.8,583.3M1008.1,585.7L1008.1,590.5M1013.8,585.7L1013.8,591.2L1013.5,592.2L1012.6,592.9L1011.1,592.6M1013.8,586.7L1012.6,585.7L1011.7,585.7L1010.5,586.7L1010.2,587.8L1010.5,589.5L1011.7,590.5L1012.6,590.5L1013.8,589.5M1016.2,583.3L1016.2,590.5M1016.2,587.1L1017.7,585.7L1019.2,586.0L1019.5,590.5M1022.2,583.3L1022.2,589.1L1022.5,590.2L1023.8,590.5M1021.3,585.7L1023.4,585.7"/>
<path d="M913.8,619.8L913.8,627.5M913.8,619.8L918.2,619.8M913.8,623.5L916.5,623.5M913.8,627.5L918.2,627.5M919.9,622.4L923.7,627.5M923.7,622.4L919.9,627.5M926.4,619.8L926.4,626.0L926.7,627.1L928.1,627.5M925.4,622.4L927.8,622.4M929.8,624.6L933.9,624.6L933.6,623.1L932.6,622.4L931.5,622.4L930.2,623.5L929.8,624.6L930.2,626.4L931.5,627.5L932.6,627.5L933.9,626.4M936.3,622.4L936.3,627.5M936.3,624.6L937.3,622.7L939.0,622.4M940.8,622.4L940.8,627.5M940.8,623.8L942.5,622.4L944.2,622.7L944.5,627.5M951.0,622.4L951.0,627.5M951.0,623.5L949.6,622.4L948.6,622.4L947.3,623.5L946.9,624.6L947.3,626.4L948.6,627.5L949.6,627.5L951.0,626.4M953.8,619.8L953.8,627.5"/>
<path d="M919.8,636.7L919.5,636.0L918.5,635.6L916.6,636.0L916.2,636.7L916.6,637.5L919.5,638.5L919.8,639.6L919.5,640.4L918.5,640.8L916.6,640.4L916.2,639.6M922.0,635.6L922.0,643.3M922.0,636.7L923.3,635.6L924.3,635.6L925.5,636.7L925.9,637.8L925.5,639.6L924.3,640.8L923.3,640.8L922.0,639.6M927.8,637.8L931.6,637.8L931.3,636.4L930.4,635.6L929.4,635.6L928.1,636.7L927.8,637.8L928.1,639.6L929.4,640.8L930.4,640.8L931.6,639.6M937.4,635.6L937.4,640.8M937.4,636.7L936.1,635.6L935.2,635.6L933.9,636.7L933.6,637.8L933.9,639.6L935.2,640.8L936.1,640.8L937.4,639.6M940.0,633.0L940.0,640.8M943.2,635.6L940.0,639.3M941.2,637.8L943.5,640.8M945.1,637.8L948.9,637.8L948.6,636.4L947.7,635.6L946.7,635.6L945.4,636.7L945.1,637.8L945.4,639.6L946.7,640.8L947.7,640.8L948.9,639.6M951.2,635.6L951.2,640.8M951.2,637.8L952.1,636.0L953.8,635.6"/>
<path d="M970.0,625.3L970.0,635.5M970.0,625.3L973.6,625.3L974.8,625.8L975.6,627.2L975.6,628.7L974.8,630.2L970.0,630.6M978.1,625.3L978.5,625.8L978.9,625.3L978.5,624.8L978.1,625.3M978.5,628.7L978.5,635.5M986.1,630.2L984.5,628.7L983.3,628.7L981.7,630.2L981.3,631.6L981.7,634.0L983.3,635.5L984.5,635.5L986.1,634.0M989.0,628.7L989.0,635.5M989.0,630.6L991.0,628.7L993.0,629.2L993.4,635.5M996.2,625.3L996.6,625.8L997.0,625.3L996.6,624.8L996.2,625.3M996.6,628.7L996.6,635.5M1004.3,630.2L1002.7,628.7L1001.5,628.7L999.8,630.2L999.4,631.6L999.8,634.0L1001.5,635.5L1002.7,635.5L1004.3,634.0M1015.2,625.3L1015.2,635.5M1012.3,625.3L1018.0,625.3M1024.4,628.7L1024.4,635.5M1024.4,630.2L1022.8,628.7L1021.6,628.7L1020.0,630.2L1019.6,631.6L1020.0,634.0L1021.6,635.5L1022.8,635.5L1024.4,634.0M1027.7,625.3L1027.7,635.5M1027.7,630.2L1029.3,628.7L1030.5,628.7L1032.1,630.2L1032.5,631.6L1032.1,634.0L1030.5,635.5L1029.3,635.5L1027.7,634.0M1035.3,625.3L1035.3,635.5M1038.2,631.6L1043.0,631.6L1042.6,629.7L1041.4,628.7L1040.2,628.7L1038.6,630.2L1038.2,631.6L1038.6,634.0L1040.2,635.5L1041.4,635.5L1043.0,634.0"/>
<path d="M1198.0,179.6L1198.0,189.0M1198.0,179.6L1203.3,179.6M1198.0,184.1L1201.2,184.1M1198.0,189.0L1203.3,189.0M1205.7,179.6L1205.7,189.0M1208.6,185.4L1213.4,185.4L1213.0,183.6L1211.8,182.7L1210.6,182.7L1209.0,184.1L1208.6,185.4L1209.0,187.7L1210.6,189.0L1211.8,189.0L1213.4,187.7M1220.7,184.1L1219.1,182.7L1217.9,182.7L1216.3,184.1L1215.9,185.4L1216.3,187.7L1217.9,189.0L1219.1,189.0L1220.7,187.7M1235.4,180.9L1233.3,179.6L1231.7,179.6L1229.7,180.9L1230.5,183.2L1234.5,184.9L1235.4,186.3L1235.4,187.7L1233.3,189.0L1231.7,189.0L1229.7,187.7M1237.4,182.7L1239.8,189.0M1242.3,182.7L1239.0,190.8L1237.0,192.2M1248.8,184.1L1248.3,183.2L1247.1,182.7L1244.7,183.2L1244.3,184.1L1244.7,184.9L1248.3,186.3L1248.8,187.7L1248.3,188.6L1247.1,189.0L1244.7,188.6L1244.3,187.7"/>
<path d="M1193.0,265.3L1193.0,274.5M1193.0,265.3L1196.3,274.5M1199.7,265.3L1196.3,274.5M1199.7,265.3L1199.7,274.5M1202.6,265.3L1203.0,265.7L1203.5,265.3L1203.0,264.9L1202.6,265.3M1203.0,268.4L1203.0,274.5M1211.0,269.7L1209.3,268.4L1208.1,268.4L1206.4,269.7L1206.0,271.0L1206.4,273.2L1208.1,274.5L1209.3,274.5L1211.0,273.2M1213.9,268.4L1213.9,274.5M1213.9,271.0L1215.2,268.8L1217.3,268.4M1221.0,268.4L1219.4,269.7L1218.9,271.9L1220.2,274.1L1222.3,274.5L1224.0,273.2L1224.4,271.0L1223.1,268.8L1221.0,268.4M1226.9,268.4L1228.6,274.5M1230.2,268.4L1228.6,274.5M1230.2,268.4L1231.9,274.5M1233.6,268.4L1231.9,274.5M1241.1,268.4L1241.1,274.5M1241.1,269.7L1239.4,268.4L1238.2,268.4L1236.5,269.7L1236.1,271.0L1236.5,273.2L1238.2,274.5L1239.4,274.5L1241.1,273.2M1243.6,268.4L1246.1,274.5M1248.6,268.4L1246.1,274.5M1250.7,271.0L1255.8,271.0L1255.3,269.2L1254.1,268.4L1252.8,268.4L1251.1,269.7L1250.7,271.0L1251.1,273.2L1252.8,274.5L1254.1,274.5L1255.8,273.2"/>
<path d="M1331.2,187.3L1329.6,189.3L1329.2,192.5L1330.6,195.3L1332.5,195.8L1334.1,193.7L1334.5,190.5L1333.2,187.7L1331.2,187.3M1341.3,189.3L1340.3,187.7L1338.4,187.3L1337.1,188.5L1336.4,190.5L1336.8,193.7L1338.4,195.8L1340.3,195.3L1341.3,193.7L1341.3,192.5M1339.7,192.5L1341.3,192.5M1345.2,187.3L1343.6,189.3L1343.3,192.5L1344.6,195.3L1346.5,195.8L1348.2,193.7L1348.5,190.5L1347.2,187.7L1345.2,187.3M1360.6,189.3L1359.6,187.7L1357.6,187.3L1356.3,188.5L1355.7,190.5L1355.7,192.5L1357.0,195.3L1358.9,195.8L1360.6,193.7M1364.5,187.3L1362.9,189.3L1362.5,192.5L1363.8,195.3L1365.8,195.8L1367.4,193.7L1367.7,190.5L1366.4,187.7L1364.5,187.3M1370.0,187.3L1370.0,195.8M1370.0,187.3L1372.6,195.8M1375.2,187.3L1372.6,195.8M1375.2,187.3L1375.2,195.8M1377.9,187.3L1377.9,195.8M1377.9,187.3L1380.8,187.3L1381.8,187.7L1382.4,188.9L1382.4,190.1L1381.8,191.3L1377.9,191.7M1386.3,187.3L1384.7,189.3L1384.4,192.5L1385.7,195.3L1387.6,195.8L1389.3,193.7L1389.6,190.5L1388.3,187.7L1386.3,187.3M1396.1,188.5L1394.5,187.3L1393.2,187.3L1391.6,188.5L1392.2,190.5L1395.5,192.1L1396.1,193.3L1396.1,194.5L1394.5,195.8L1393.2,195.8L1391.6,194.5M1399.7,187.3L1399.7,195.8M1397.4,187.3L1402.0,187.3"/>
<path d="M1341.8,227.8L1341.8,237.0M1341.8,227.8L1345.6,227.8L1346.9,228.2L1347.7,229.6L1347.7,230.9L1346.9,232.2L1341.8,232.6M1352.9,227.8L1350.7,230.0L1350.3,233.5L1352.0,236.6L1354.6,237.0L1356.7,234.8L1357.1,231.3L1355.4,228.2L1352.9,227.8M1359.3,227.8L1361.4,237.0M1363.6,227.8L1361.4,237.0M1363.6,227.8L1365.7,237.0M1367.8,227.8L1365.7,237.0M1370.4,227.8L1370.4,237.0M1370.4,227.8L1376.0,227.8M1370.4,232.2L1373.8,232.2M1370.4,237.0L1376.0,237.0M1378.5,227.8L1378.5,237.0M1378.5,227.8L1382.4,227.8L1383.6,228.2L1384.5,229.6L1383.6,231.7L1378.5,232.2M1381.5,232.2L1384.5,237.0"/>
<path d="M1343.0,244.1L1343.0,253.2M1349.3,244.1L1349.3,253.2M1343.0,248.4L1349.3,248.4M1355.2,244.1L1351.6,253.2M1355.2,244.1L1358.8,253.2M1352.9,250.2L1357.4,250.2M1362.8,244.1L1362.8,253.2M1359.7,244.1L1366.0,244.1M1374.5,246.2L1373.2,244.5L1370.5,244.1L1368.7,245.4L1367.8,247.6L1367.8,249.7L1369.6,252.8L1372.3,253.2L1374.5,251.1M1377.7,244.1L1377.7,253.2M1384.0,244.1L1384.0,253.2M1377.7,248.4L1384.0,248.4"/>
<path d="M1457.3,238.3L1455.4,240.4L1455.0,243.7L1456.5,246.6L1458.8,247.0L1460.7,244.9L1461.1,241.6L1459.6,238.7L1457.3,238.3M1463.8,238.3L1463.8,247.0M1469.1,238.3L1469.1,247.0M1463.8,242.4L1469.1,242.4M1477.5,240.4L1476.4,238.7L1474.1,238.3L1472.5,239.5L1471.8,241.6L1471.8,243.7L1473.3,246.6L1475.6,247.0L1477.5,244.9"/>
<path d="M1344.2,492.8L1344.2,502.0M1344.2,492.8L1348.1,492.8L1349.3,493.2L1350.2,494.6L1350.2,495.9L1349.3,497.2L1344.2,497.6M1355.2,492.8L1353.1,495.0L1352.7,498.5L1354.4,501.6L1356.9,502.0L1359.0,499.8L1359.5,496.3L1357.8,493.2L1355.2,492.8M1361.6,492.8L1363.7,502.0M1365.8,492.8L1363.7,502.0M1365.8,492.8L1367.9,502.0M1370.0,492.8L1367.9,502.0M1372.6,492.8L1372.6,502.0M1372.6,492.8L1378.0,492.8M1372.6,497.2L1375.9,497.2M1372.6,502.0L1378.0,502.0M1380.6,492.8L1380.6,502.0M1380.6,492.8L1384.4,492.8L1385.7,493.2L1386.5,494.6L1385.7,496.7L1380.6,497.2M1383.5,497.2L1386.5,502.0"/>
<path d="M1345.0,509.6L1345.0,518.8M1351.4,509.6L1351.4,518.8M1345.0,513.9L1351.4,513.9M1357.3,509.6L1353.7,518.8M1357.3,509.6L1361.0,518.8M1355.0,515.7L1359.6,515.7M1365.1,509.6L1365.1,518.8M1361.9,509.6L1368.3,509.6M1376.9,511.7L1375.6,510.0L1372.8,509.6L1371.0,510.9L1370.1,513.1L1370.1,515.2L1371.9,518.3L1374.6,518.8L1376.9,516.6M1380.1,509.6L1380.1,518.8M1386.5,509.6L1386.5,518.8M1380.1,513.9L1386.5,513.9"/>
<path d="M1526.7,205.8L1526.7,212.4L1526.4,213.7L1525.2,214.5L1523.7,214.1L1523.0,211.6M1535.7,204.1L1529.0,217.4M1543.2,207.9L1542.1,206.2L1539.8,205.8L1538.3,207.0L1537.6,209.1L1537.6,211.2L1539.1,214.1L1541.3,214.5L1543.2,212.4M1549.9,208.7L1549.9,214.5M1549.9,209.9L1548.4,208.7L1547.3,208.7L1545.8,209.9L1545.4,211.2L1545.8,213.3L1547.3,214.5L1548.4,214.5L1549.9,213.3M1552.9,208.7L1552.9,214.5M1552.9,210.4L1554.8,208.7L1556.6,209.1L1557.0,214.5"/>
<path d="M1524.9,517.5L1524.9,524.2L1524.5,525.4L1523.4,526.2L1522.0,525.8L1521.2,523.4M1533.7,515.9L1527.1,529.1M1541.0,519.6L1539.9,518.0L1537.7,517.5L1536.2,518.8L1535.5,520.9L1535.5,522.9L1537.0,525.8L1539.2,526.2L1541.0,524.2M1547.6,520.5L1547.6,526.2M1547.6,521.7L1546.1,520.5L1545.0,520.5L1543.5,521.7L1543.2,522.9L1543.5,525.0L1545.0,526.2L1546.1,526.2L1547.6,525.0M1550.5,520.5L1550.5,526.2M1550.5,522.1L1552.3,520.5L1554.1,520.9L1554.5,526.2"/>
<path d="M1531.0,540.8L1531.0,547.5M1531.0,540.8L1534.4,541.1L1535.8,543.4L1535.8,544.9L1534.4,547.2L1531.0,547.5M1539.6,543.0L1538.2,544.0L1537.9,545.6L1538.9,547.2L1540.6,547.5L1542.0,546.5L1542.3,544.9L1541.3,543.4L1539.6,543.0M1546.1,543.0L1544.7,544.0L1544.4,545.6L1545.4,547.2L1547.1,547.5L1548.5,546.5L1548.9,544.9L1547.8,543.4L1546.1,543.0M1551.3,543.0L1551.3,547.5M1551.3,544.9L1552.3,543.4L1554.0,543.0"/>
<path transform="translate(405,340) rotate(90)" d="M2.9,-7.2L0.5,0.0M2.9,-7.2L5.4,0.0M1.4,-2.4L4.5,-2.4M6.6,-4.8L7.8,0.0M9.1,-4.8L7.8,0.0M9.1,-4.8L10.3,0.0M11.5,-4.8L10.3,0.0M13.6,-4.8L13.6,0.0M13.6,-3.4L15.2,-4.8L16.7,-4.5L17.0,0.0M19.1,-7.2L19.5,-6.9L19.8,-7.2L19.5,-7.5L19.1,-7.2M19.5,-4.8L19.5,0.0M21.9,-4.8L21.9,0.0M21.9,-3.4L23.4,-4.8L25.0,-4.5L25.3,0.0M31.1,-4.8L31.1,0.7L30.8,1.7L29.8,2.4L28.3,2.1M31.1,-3.8L29.8,-4.8L28.9,-4.8L27.7,-3.8L27.4,-2.7L27.7,-1.0L28.9,0.0L29.8,0.0L31.1,-1.0M38.4,-7.2L38.4,0.0M38.4,0.0L42.1,0.0M43.3,-7.2L43.6,-6.9L43.9,-7.2L43.6,-7.5L43.3,-7.2M43.6,-4.8L43.6,0.0M49.4,-4.8L49.4,0.7L49.1,1.7L48.2,2.4L46.7,2.1M49.4,-3.8L48.2,-4.8L47.3,-4.8L46.0,-3.8L45.7,-2.7L46.0,-1.0L47.3,0.0L48.2,0.0L49.4,-1.0M51.9,-7.2L51.9,0.0M51.9,-3.4L53.4,-4.8L54.9,-4.5L55.2,0.0M58.0,-7.2L58.0,-1.4L58.3,-0.3L59.5,0.0M57.1,-4.8L59.2,-4.8"/>
<path transform="translate(1422.5,346.25) rotate(90)" d="M0.5,-9.7L0.5,0.0M0.5,-9.7L5.0,-9.7M0.5,-5.1L3.3,-5.1M6.8,-9.7L6.8,0.0M6.8,-9.7L9.9,-9.7L10.9,-9.2L11.6,-7.9L10.9,-5.5L6.8,-5.1M9.2,-5.1L11.6,0.0M15.8,-9.7L14.0,-7.4L13.7,-3.7L15.1,-0.5L17.2,0.0L18.9,-2.3L19.3,-6.0L17.9,-9.2L15.8,-9.7M21.7,-9.7L21.7,0.0M21.7,-9.7L26.6,0.0M26.6,-9.7L26.6,0.0M30.7,-9.7L30.7,0.0M28.3,-9.7L33.2,-9.7M40.4,-9.7L40.4,0.0M40.4,0.0L44.6,0.0M48.1,-9.7L46.3,-7.4L46.0,-3.7L47.4,-0.5L49.5,0.0L51.2,-2.3L51.6,-6.0L50.2,-9.2L48.1,-9.7M55.7,-9.7L52.9,0.0M55.7,-9.7L58.5,0.0M54.0,-3.2L57.5,-3.2M60.2,-9.7L60.2,0.0M60.2,-9.7L63.7,-9.2L65.1,-6.0L65.1,-3.7L63.7,-0.5L60.2,0.0M67.5,-9.7L67.5,0.0M67.5,-9.7L72.1,-9.7M67.5,-5.1L70.3,-5.1M67.5,0.0L72.1,0.0M74.1,-9.7L74.1,0.0M74.1,-9.7L77.3,-9.7L78.3,-9.2L79.0,-7.9L78.3,-5.5L74.1,-5.1M76.6,-5.1L79.0,0.0"/>
<path transform="translate(1502,403.8) rotate(-90)" d="M3.0,-7.2L0.5,0.0M3.0,-7.2L5.5,0.0M1.4,-2.4L4.5,-2.4M6.7,-4.8L7.9,0.0M9.2,-4.8L7.9,0.0M9.2,-4.8L10.4,0.0M11.7,-4.8L10.4,0.0M13.8,-4.8L13.8,0.0M13.8,-3.4L15.4,-4.8L16.9,-4.5L17.2,0.0M19.4,-7.2L19.7,-6.9L20.0,-7.2L19.7,-7.5L19.4,-7.2M19.7,-4.8L19.7,0.0M22.2,-4.8L22.2,0.0M22.2,-3.4L23.7,-4.8L25.3,-4.5L25.6,0.0M31.5,-4.8L31.5,0.7L31.2,1.7L30.2,2.4L28.7,2.1M31.5,-3.8L30.2,-4.8L29.3,-4.8L28.1,-3.8L27.8,-2.7L28.1,-1.0L29.3,0.0L30.2,0.0L31.5,-1.0M38.9,-7.2L38.9,0.0M38.9,0.0L42.6,0.0M43.9,-7.2L44.2,-6.9L44.5,-7.2L44.2,-7.5L43.9,-7.2M44.2,-4.8L44.2,0.0M50.1,-4.8L50.1,0.7L49.8,1.7L48.8,2.4L47.3,2.1M50.1,-3.8L48.8,-4.8L47.9,-4.8L46.7,-3.8L46.4,-2.7L46.7,-1.0L47.9,0.0L48.8,0.0L50.1,-1.0M52.6,-7.2L52.6,0.0M52.6,-3.4L54.1,-4.8L55.7,-4.5L56.0,0.0M58.8,-7.2L58.8,-1.4L59.1,-0.3L60.3,0.0M57.8,-4.8L60.0,-4.8"/>
</g>
<g>
<text x="1202.5" y="290.75" font-size="11.23" textLength="41.75" lengthAdjust="spacingAndGlyphs">FRIDGE</text>
<text x="1186" y="373" font-size="12.32" textLength="77.5" lengthAdjust="spacingAndGlyphs">VENTILATOR</text>
<text x="1203.8" y="390" font-size="13.04" textLength="41.7" lengthAdjust="spacingAndGlyphs">HATCH</text>
<text transform="translate(1520.5,410.5) rotate(-90)" font-size="13.77" textLength="92.7" lengthAdjust="spacingAndGlyphs">Reverse Camera</text>
<text transform="translate(1537.3,326.8) rotate(-90)" font-size="13.77" textLength="91" lengthAdjust="spacingAndGlyphs">Firewood Cradle</text>
<text transform="translate(1557.6,357.8) rotate(-90)" font-size="13.77" textLength="37.8" lengthAdjust="spacingAndGlyphs">Drawer</text>
<text transform="translate(1543.3,477.5) rotate(-90)" font-size="14.49" textLength="90" lengthAdjust="spacingAndGlyphs">SPARE WHEEL</text>
<text transform="translate(936,196.500) rotate(-90)" font-size="6.500" textLength="13" lengthAdjust="spacingAndGlyphs">USB</text>
<text transform="translate(1051.500,196.500) rotate(-90)" font-size="6.500" textLength="13" lengthAdjust="spacingAndGlyphs">USB</text>
</g>
<!-- ===== SECTION: LEADERS ===== -->
<g fill="none" stroke="#fff" stroke-width="1" shape-rendering="crispEdges">
<path d="M635,84.500H590.500V154.500"/>
<path d="M567.500,582V630.500H597.500"/>
<path d="M363.500,173V186M371.500,544V558"/>
</g>
<g fill="#fff" stroke="none">
<rect x="588" y="150" width="2" height="3"/><rect x="589" y="153" width="1" height="3"/>
<rect x="566" y="584" width="2" height="2"/><rect x="566" y="586" width="3" height="3"/>
<rect x="362" y="163" width="2" height="6"/><rect x="361" y="169" width="4" height="4"/>
<rect x="369" y="558" width="4" height="2"/><rect x="370" y="560" width="2" height="6"/>
</g>
<g fill="none" stroke="#fff" stroke-width="1" shape-rendering="crispEdges">
<path d="M448.500,161V158Q449,155.500 452,155.500H489Q492,155.500 492.500,158V161"/>
<path d="M448.500,574.500H492.500V577L490.500,579.500H450.500L448.500,577Z"/>
<path d="M1100.500,161V158Q1101,155.500 1104,155.500H1143Q1146,155.500 1146.500,158V161"/>
<path d="M420,345.500Q416.500,345.500 415.500,349M415.500,385Q416.500,388.500 420,388.500"/>
</g>

<!-- SECTIONS-INSERT -->
</svg>
</body></html>
